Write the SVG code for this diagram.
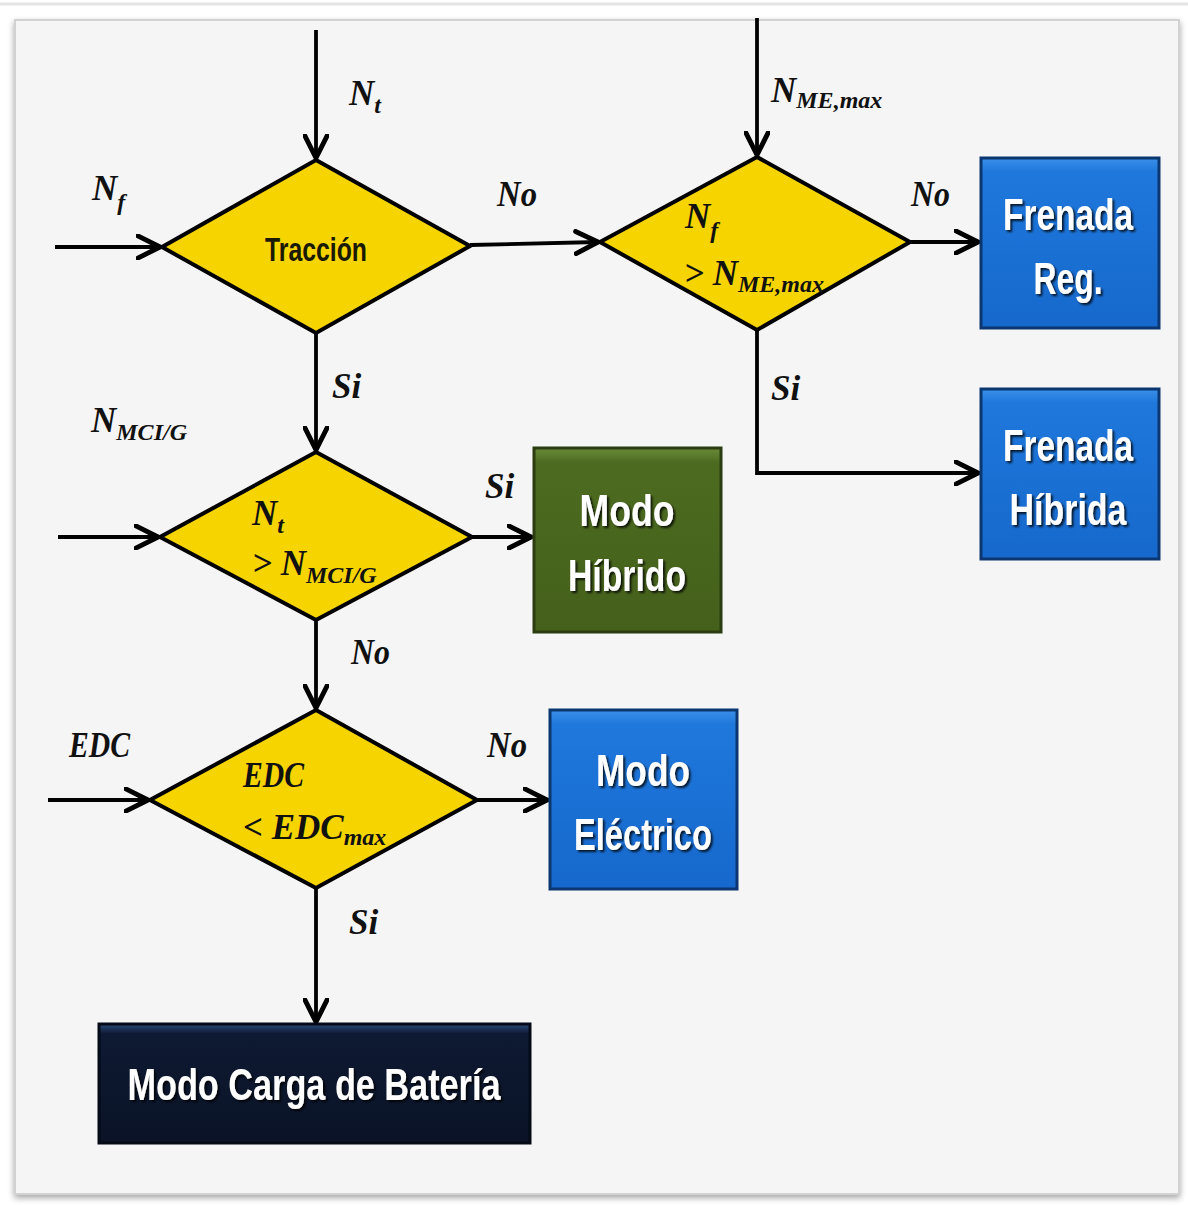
<svg xmlns="http://www.w3.org/2000/svg" width="1188" height="1205" viewBox="0 0 1188 1205">
<defs>
<marker id="arr" viewBox="0 0 12 12" refX="11" refY="6" markerWidth="7" markerHeight="7" markerUnits="strokeWidth" orient="auto">
<path d="M1,1 L11,6 L1,11" fill="none" stroke="#000" stroke-width="2.2" stroke-linecap="round" stroke-linejoin="round"/>
</marker>
<linearGradient id="blue" x1="0" y1="0" x2="0" y2="1">
<stop offset="0" stop-color="#3a8fe8"/><stop offset="0.08" stop-color="#1f78dc"/><stop offset="1" stop-color="#1668cc"/>
</linearGradient>
<linearGradient id="green" x1="0" y1="0" x2="0" y2="1">
<stop offset="0" stop-color="#6a8a3a"/><stop offset="0.08" stop-color="#4d6b20"/><stop offset="1" stop-color="#44601b"/>
</linearGradient>
<linearGradient id="navy" x1="0" y1="0" x2="0" y2="1">
<stop offset="0" stop-color="#2a4a7a"/><stop offset="0.08" stop-color="#0e1a33"/><stop offset="1" stop-color="#0a1326"/>
</linearGradient>
<filter id="ts" x="-10%" y="-10%" width="130%" height="140%">
<feDropShadow dx="2" dy="2" stdDeviation="1" flood-color="#000" flood-opacity="0.8"/>
</filter>
<filter id="panel" x="-5%" y="-5%" width="110%" height="110%">
<feDropShadow dx="0" dy="3" stdDeviation="3" flood-color="#000" flood-opacity="0.35"/>
</filter>
</defs>
<style>
.dia{fill:#f6d400;stroke:#000;stroke-width:4;stroke-linejoin:miter}
.conn{fill:none;stroke:#000;stroke-width:3.8;marker-end:url(#arr)}
.lbl{font-family:"Liberation Serif",serif;font-style:italic;font-weight:bold;font-size:35px;fill:#111}
.sub{font-size:24px}
.box{stroke-width:3}
.bt{font-family:"Liberation Sans",Arial,sans-serif;font-weight:bold;font-size:44px;fill:#fff;text-anchor:middle}
.dt{font-family:"Liberation Sans",Arial,sans-serif;font-weight:bold;font-size:34px;fill:#1a1a00;text-anchor:middle}
</style>
<rect x="0" y="0" width="1188" height="1205" fill="#ffffff"/>
<line x1="0" y1="4" x2="1188" y2="4" stroke="#e4e4e4" stroke-width="3"/>
<rect x="15" y="20" width="1164" height="1174" fill="#f5f5f5" stroke="#d2d2d2" stroke-width="2" filter="url(#panel)"/>

<g id="connectors">
<path class="conn" d="M316,30 L316,158"/>
<path class="conn" d="M757,18 L757,155"/>
<path class="conn" d="M55,247 L160,247"/>
<path class="conn" d="M470,245 L598,242"/>
<path class="conn" d="M910,242 L978,242"/>
<path class="conn" d="M757,330 L757,473 L978,473"/>
<path class="conn" d="M316,333 L316,450"/>
<path class="conn" d="M58,537 L158,537"/>
<path class="conn" d="M472,537 L531,537"/>
<path class="conn" d="M316,620 L316,708"/>
<path class="conn" d="M48,800 L148,800"/>
<path class="conn" d="M477,800 L547,800"/>
<path class="conn" d="M316,888 L316,1022"/>
</g>

<g id="labels">
<text class="lbl" x="349" y="105">N<tspan class="sub" dy="8">t</tspan></text>
<text class="lbl" x="92" y="200">N<tspan class="sub" dy="10">f</tspan></text>
<text class="lbl" x="497" y="206" textLength="40" lengthAdjust="spacingAndGlyphs">No</text>
<text class="lbl" x="771" y="102">N<tspan class="sub" dy="6">ME,max</tspan></text>
<text class="lbl" x="911" y="206" textLength="39" lengthAdjust="spacingAndGlyphs">No</text>
<text class="lbl" x="332" y="398">Si</text>
<text class="lbl" x="771" y="400">Si</text>
<text class="lbl" x="91" y="432">N<tspan class="sub" dy="8">MCI/G</tspan></text>
<text class="lbl" x="485" y="498">Si</text>
<text class="lbl" x="351" y="664" textLength="39" lengthAdjust="spacingAndGlyphs">No</text>
<text class="lbl" x="69" y="757" textLength="61" lengthAdjust="spacingAndGlyphs">EDC</text>
<text class="lbl" x="487" y="757" textLength="40" lengthAdjust="spacingAndGlyphs">No</text>
<text class="lbl" x="349" y="934">Si</text>
</g>

<g id="d1">
<polygon class="dia" points="316,160 470,246 316,333 162,247"/>
<text class="dt" x="316" y="261" textLength="102" lengthAdjust="spacingAndGlyphs">Tracción</text>
</g>
<g id="d2">
<polygon class="dia" points="757,157 910,242 757,330 600,242"/>
<text class="lbl" x="685" y="228">N<tspan class="sub" dy="10">f</tspan></text>
<text class="lbl" x="684" y="285">&gt; N<tspan class="sub" dy="7">ME,max</tspan></text>
</g>
<g id="d3">
<polygon class="dia" points="316,452 472,537 316,620 160,537"/>
<text class="lbl" x="252" y="525">N<tspan class="sub" dy="8">t</tspan></text>
<text class="lbl" x="252" y="575">&gt; N<tspan class="sub" dy="8">MCI/G</tspan></text>
</g>
<g id="d4">
<polygon class="dia" points="316,710 477,800 316,888 150,800"/>
<text class="lbl" x="243" y="787" textLength="61" lengthAdjust="spacingAndGlyphs">EDC</text>
<text class="lbl" x="243" y="839">&lt; EDC<tspan class="sub" dy="6">max</tspan></text>
</g>

<g id="frenada-reg">
<rect class="box" x="981" y="158" width="178" height="170" fill="url(#blue)" stroke="#0b3670"/>
<text class="bt" x="1068" y="230" textLength="130" lengthAdjust="spacingAndGlyphs" filter="url(#ts)">Frenada</text>
<text class="bt" x="1068" y="294" textLength="69" lengthAdjust="spacingAndGlyphs" filter="url(#ts)">Reg.</text>
</g>
<g id="frenada-hibrida">
<rect class="box" x="981" y="389" width="178" height="170" fill="url(#blue)" stroke="#0b3670"/>
<text class="bt" x="1068" y="461" textLength="130" lengthAdjust="spacingAndGlyphs" filter="url(#ts)">Frenada</text>
<text class="bt" x="1068" y="525" textLength="117" lengthAdjust="spacingAndGlyphs" filter="url(#ts)">Híbrida</text>
</g>
<g id="modo-hibrido">
<rect class="box" x="534" y="448" width="187" height="184" fill="url(#green)" stroke="#2b3d10"/>
<text class="bt" x="627" y="526" textLength="95" lengthAdjust="spacingAndGlyphs" filter="url(#ts)">Modo</text>
<text class="bt" x="627" y="591" textLength="118" lengthAdjust="spacingAndGlyphs" filter="url(#ts)">Híbrido</text>
</g>
<g id="modo-electrico">
<rect class="box" x="550" y="710" width="187" height="179" fill="url(#blue)" stroke="#0b3670"/>
<text class="bt" x="643" y="786" textLength="94" lengthAdjust="spacingAndGlyphs" filter="url(#ts)">Modo</text>
<text class="bt" x="643" y="850" textLength="138" lengthAdjust="spacingAndGlyphs" filter="url(#ts)">Eléctrico</text>
</g>
<g id="modo-carga">
<rect class="box" x="99" y="1024" width="431" height="119" fill="url(#navy)" stroke="#040a16"/>
<text class="bt" x="314" y="1100" textLength="373" lengthAdjust="spacingAndGlyphs" filter="url(#ts)">Modo Carga de Batería</text>
</g>
</svg>
